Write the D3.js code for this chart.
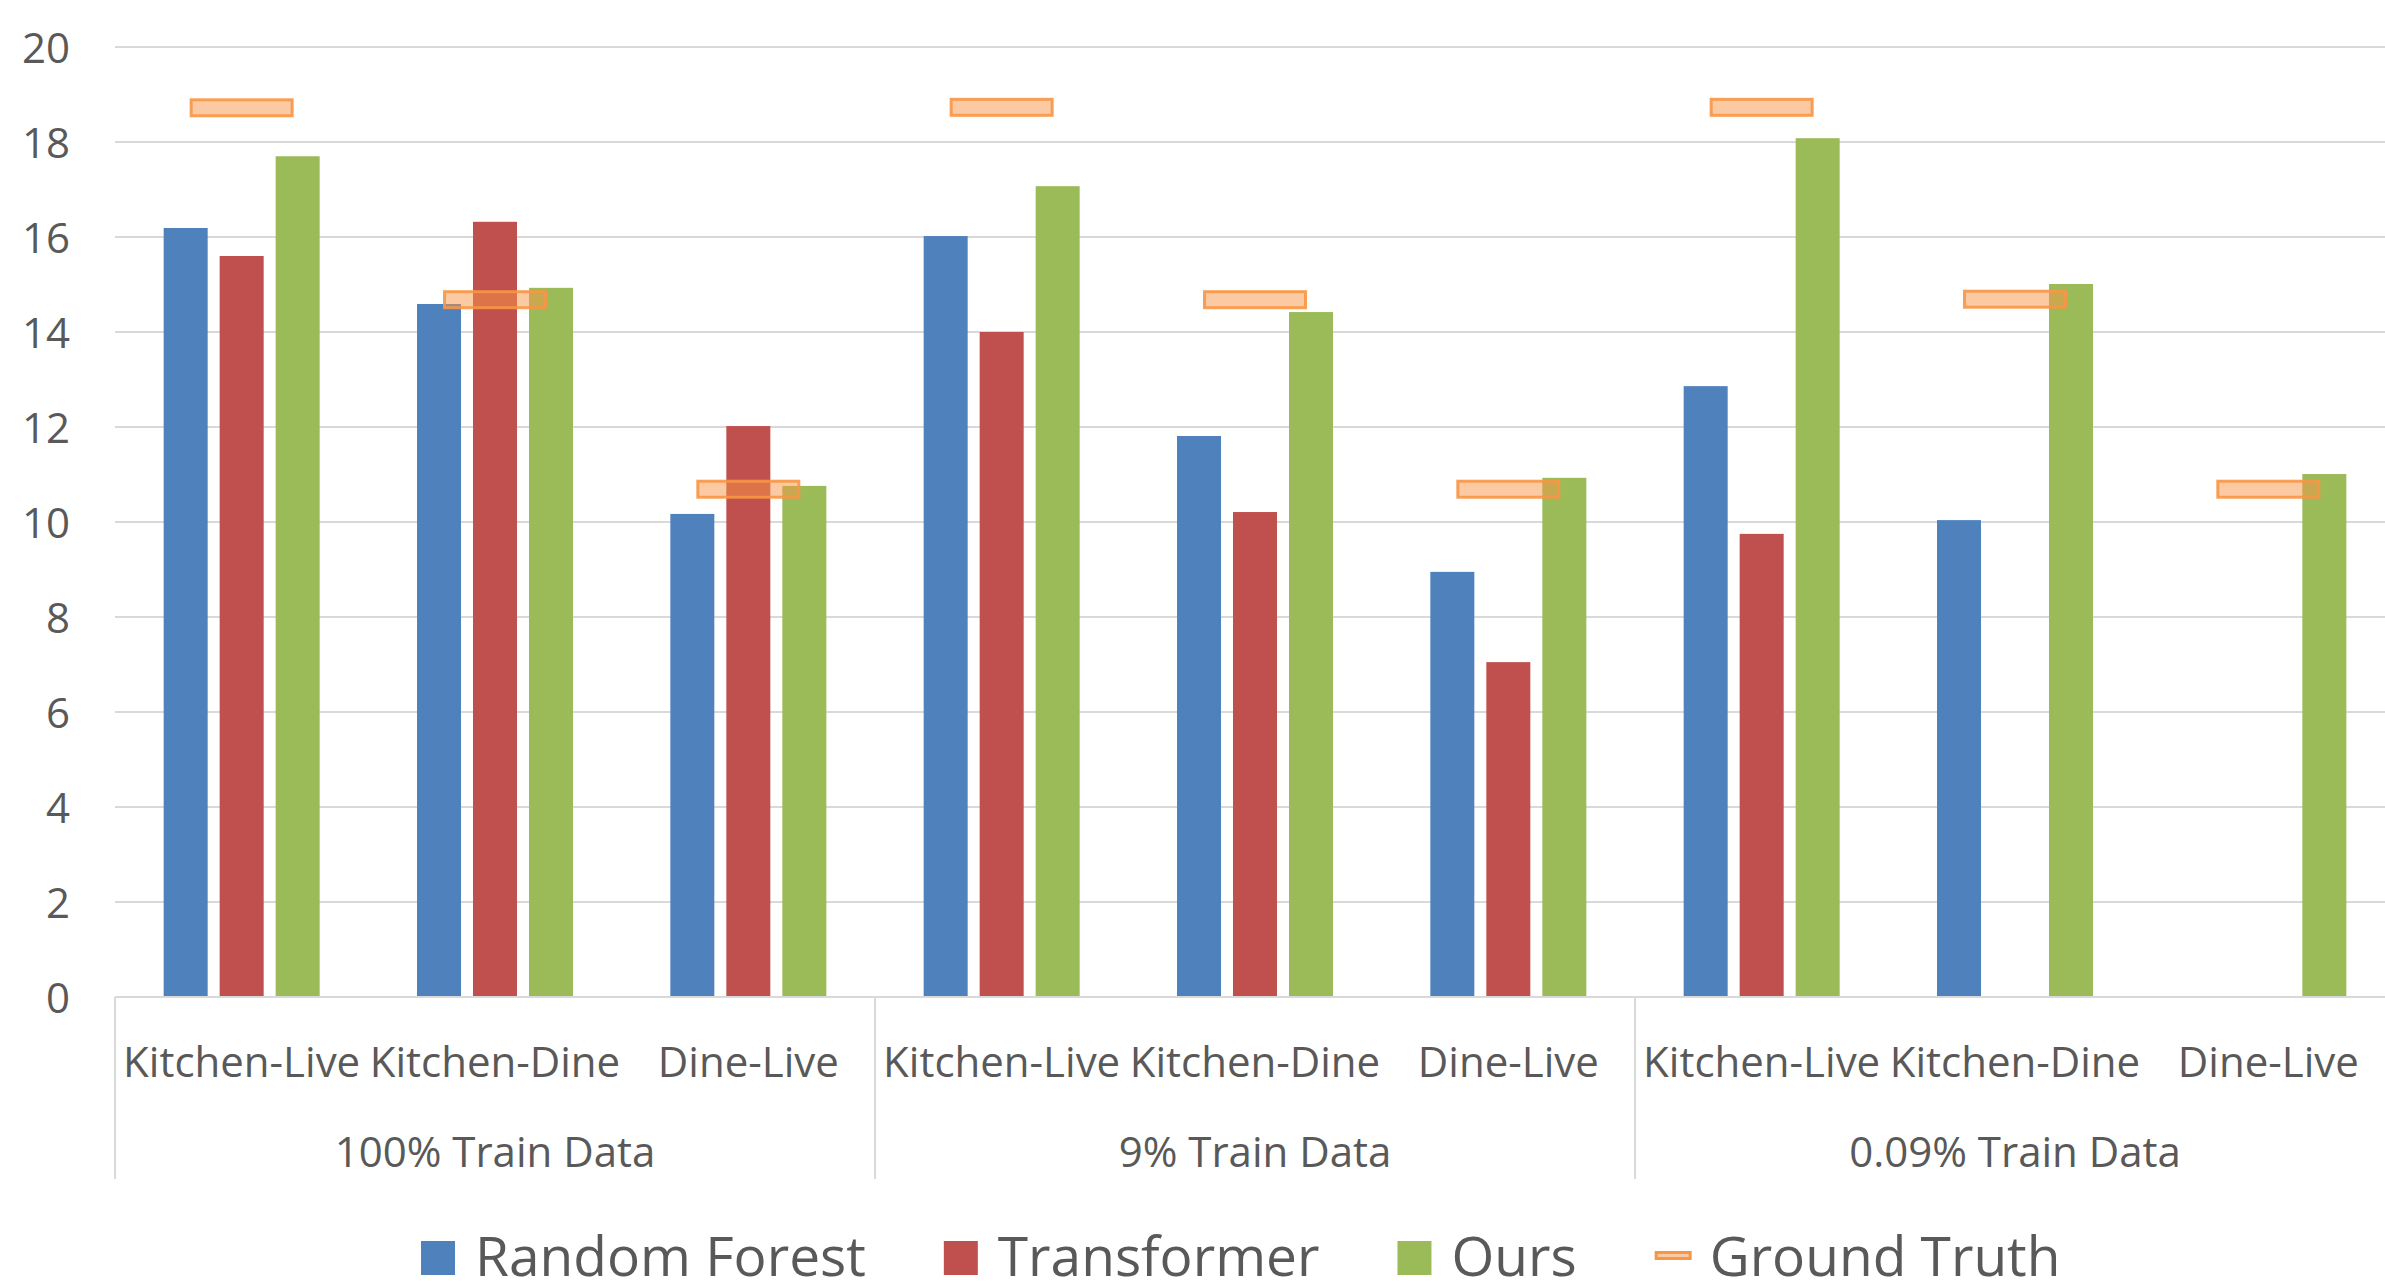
<!DOCTYPE html>
<html>
<head>
<meta charset="utf-8">
<script src="https://cdn.jsdelivr.net/npm/d3@7/dist/d3.min.js"></script>
<style>
  html, body { margin: 0; padding: 0; background: #ffffff; overflow: hidden; }
  svg { display: block; }
  text { font-family: "Open Sans", "Noto Sans", sans-serif; fill: #595959; }
</style>
</head>
<body>
<svg id="chart" width="2385" height="1282"></svg>
<script>
// Room pairs within each training-data split
const pairs = ["Kitchen-Live", "Kitchen-Dine", "Dine-Live"];
const splits = ["100% Train Data", "9% Train Data", "0.09% Train Data"];

// One value per (split, pair), in split order; null = no result
const randomForest = [16.19, 14.59, 10.17, 16.02, 11.81, 8.95, 12.86, 10.04, null];
const transformer  = [15.60, 16.32, 12.02, 14.00, 10.21, 7.05, 9.75, null, null];
const ours         = [17.70, 14.93, 10.76, 17.07, 14.42, 10.93, 18.08, 15.01, 11.01];
const groundTruth  = [18.72, 14.68, 10.69, 18.73, 14.68, 10.69, 18.73, 14.69, 10.69];

const yTicks = [0, 2, 4, 6, 8, 10, 12, 14, 16, 18, 20];

const seriesNames = ["Random Forest", "Transformer", "Ours"];
const seriesValues = [randomForest, transformer, ours];
const colors = ["#4F81BD", "#C0504D", "#9BBB59"];
const gtColor = "#F79646";

(function draw() {
  const svg = d3.select("#chart");
  svg.append("rect").attr("width", 2385).attr("height", 1282).attr("fill", "#fff");

  // Plot area
  const plotLeft = 115, plotRight = 2395, plotTop = 47, plotBottom = 997;

  const cats = [];
  splits.forEach((s, gi) => pairs.forEach((p, pi) => cats.push({ split: s, pair: p, idx: gi * 3 + pi })));

  const x0 = d3.scaleBand().domain(d3.range(cats.length)).range([plotLeft, plotRight]).padding(0);
  const x1 = d3.scaleBand().domain(d3.range(3)).range([0, x0.bandwidth()])
    .paddingInner(12 / 56).paddingOuter(0.869);
  const y = d3.scaleLinear().domain([0, 20]).range([plotBottom, plotTop]);

  const gridColor = "#D9D9D9";

  // Horizontal gridlines
  svg.append("g").selectAll("line").data(yTicks.filter(t => t > 0)).join("line")
    .attr("x1", plotLeft).attr("x2", 2385)
    .attr("y1", d => y(d)).attr("y2", d => y(d))
    .attr("stroke", gridColor).attr("stroke-width", 2);

  // Y axis labels
  const yAxis = d3.axisLeft(y).tickValues(yTicks).tickSize(0).tickPadding(0).tickFormat(d3.format("d"));
  const yg = svg.append("g").attr("transform", "translate(70,0)").call(yAxis);
  yg.select(".domain").remove();
  yg.selectAll("text").style("font-size", "42px").attr("fill", "#595959")
    .attr("dy", "0.36em").attr("x", 0);

  // Bars
  cats.forEach(c => {
    seriesValues.forEach((vals, si) => {
      const v = vals[c.idx];
      if (v == null) return;
      svg.append("rect")
        .attr("x", x0(c.idx) + x1(si))
        .attr("width", x1.bandwidth())
        .attr("y", y(v))
        .attr("height", y(0) - y(v))
        .attr("fill", colors[si]);
    });
  });

  // Category axis baseline and group separators
  svg.append("line").attr("x1", plotLeft).attr("x2", 2385).attr("y1", plotBottom).attr("y2", plotBottom)
    .attr("stroke", gridColor).attr("stroke-width", 2);
  const sepX = d3.range(0, cats.length + 1, 3).map(i => i < cats.length ? x0(i) : plotRight);
  svg.append("g").selectAll("line").data(sepX).join("line")
    .attr("x1", d => d).attr("x2", d => d)
    .attr("y1", plotBottom).attr("y2", 1179)
    .attr("stroke", gridColor).attr("stroke-width", 2);

  // Inner category labels
  svg.append("g").selectAll("text").data(cats).join("text")
    .attr("x", d => x0(d.idx) + x0.bandwidth() / 2)
    .attr("y", 1077)
    .attr("text-anchor", "middle")
    .style("font-size", "42px")
    .text(d => d.pair);

  // Split labels
  svg.append("g").selectAll("text").data(splits).join("text")
    .attr("x", (d, i) => (x0(i * 3) + (x0(i * 3 + 2) + x0.bandwidth())) / 2)
    .attr("y", 1167)
    .attr("text-anchor", "middle")
    .style("font-size", "42px")
    .text(d => d);

  // Ground truth markers (drawn over the bars)
  const gtW = 101, gtH = 16;
  svg.append("g").selectAll("rect").data(cats).join("rect")
    .attr("x", d => x0(d.idx) + x0.bandwidth() / 2 - gtW / 2)
    .attr("y", d => y(groundTruth[d.idx]) - gtH / 2)
    .attr("width", gtW).attr("height", gtH)
    .attr("fill", gtColor).attr("fill-opacity", 0.5)
    .attr("stroke", gtColor).attr("stroke-opacity", 0.9).attr("stroke-width", 3);

  // Legend
  const legend = svg.append("g");
  let lx = 421;
  const legendItems = seriesNames.map((n, i) => ({ name: n, color: colors[i], gt: false }))
    .concat([{ name: "Ground Truth", color: gtColor, gt: true }]);
  legendItems.forEach(item => {
    let keyW;
    if (item.gt) {
      keyW = 37;
      legend.append("rect").attr("x", lx + 1.5).attr("y", 1252.5).attr("width", keyW - 3).attr("height", 6)
        .attr("fill", gtColor).attr("fill-opacity", 0.5)
        .attr("stroke", gtColor).attr("stroke-width", 3);
    } else {
      keyW = 34;
      legend.append("rect").attr("x", lx).attr("y", 1241).attr("width", keyW).attr("height", 34)
        .attr("fill", item.color);
    }
    const gap = item.gt ? 18 : 20;
    const t = legend.append("text").attr("x", lx + keyW + gap).attr("y", 1276)
      .style("font-size", "55px").text(item.name);
    const w = t.node().getComputedTextLength();
    lx = lx + keyW + gap + w + 78;
  });
})();
</script>
</body>
</html>
